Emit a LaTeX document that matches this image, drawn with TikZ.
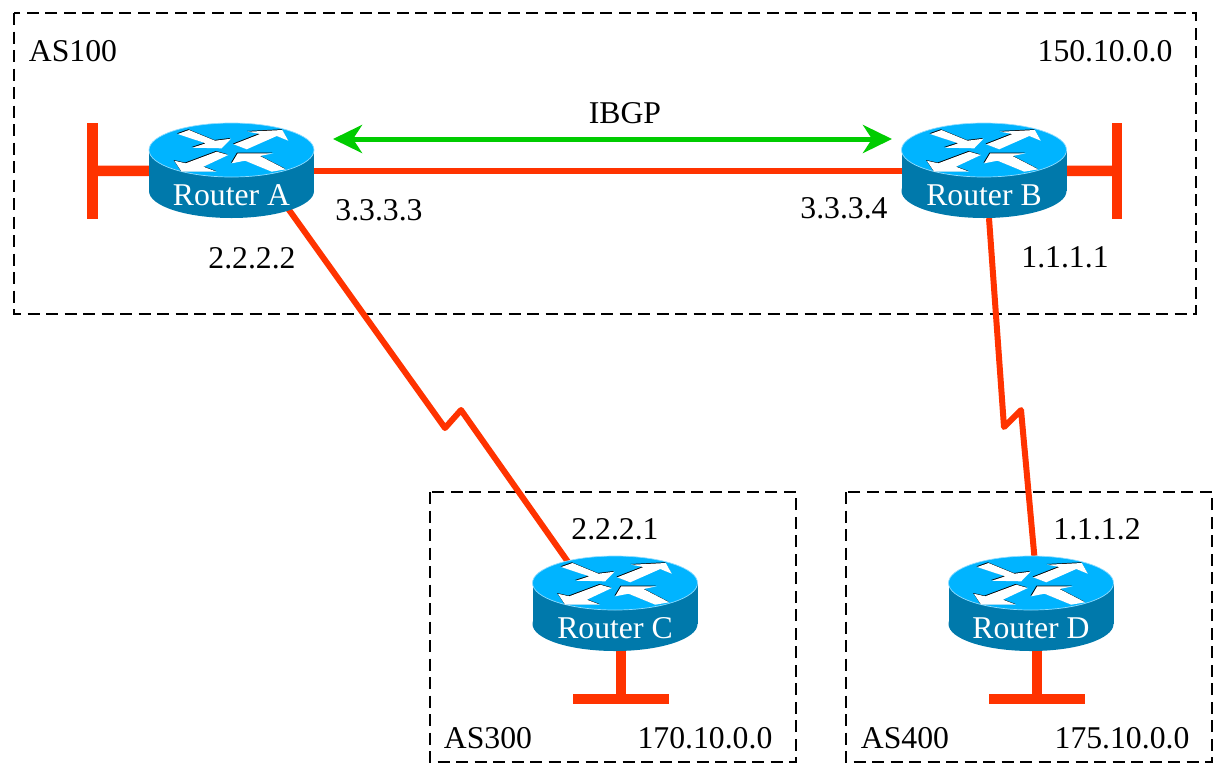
\documentclass[tikz,border=0pt]{standalone}
\usepackage{fontspec}
\setmainfont{Liberation Serif}
\usetikzlibrary{arrows.meta}
\usetikzlibrary{shapes.geometric}
\definecolor{routertop}{HTML}{00B4FF}
\definecolor{routerside}{HTML}{0079AB}
\definecolor{routeredge}{HTML}{8FDCFF}
\definecolor{linkred}{HTML}{FF3300}
\definecolor{ibgpgreen}{HTML}{00CC00}
\newcommand{\routerarrow}[1]{%
    \fill[black, shift={(-.7pt,.7pt)}] #1 -- cycle;
    \fill[white] #1 -- cycle;
}
\newcommand{\routerbody}[2]{%
    \begin{scope}[shift={(#1.center)}, yshift=20.5pt]
        \fill[routerside] (-82.5,0) rectangle (82.5,41);
        \fill[routerside] (0,41) ellipse [x radius=82.5pt, y radius=27pt];
        \fill[routertop, draw=routeredge, line width=.7pt] (0,0) ellipse [x radius=82.5pt, y radius=27pt];
        \routerarrow{(-53.8,-16) -- (-42.5,-20) -- (-16.5,-9.3) -- (-.5,-11.3) -- (-9.8,-1.7) -- (-39.2,-2.3) -- (-25.8,-6.7)}
        \routerarrow{(2.2,-5.7) -- (28.5,-16) -- (16.2,-18.3) -- (50.8,-20) -- (56.8,-9.3) -- (45.2,-14) -- (15.2,-.7)}
        \routerarrow{(-14.8,1.7) -- (-3.2,5) -- (-28.2,16.7) -- (-14.8,21.7) -- (-49.8,21.7) -- (-57.2,10.7) -- (-45.8,13.3)}
        \routerarrow{(.2,13.3) -- (6.2,3.3) -- (41.8,3.3) -- (28.5,6) -- (54.2,19.3) -- (40.2,21.7) -- (13.5,10.7)}
        \node[routerlabel] (#1-label) at (0,45.5) {#2};
    \end{scope}
}

\begin{document}
\begin{tikzpicture}[x=1pt, y=-1pt,
                    every node/.style={inner sep=0pt, font=\fontsize{31.7}{36}\selectfont},
                    router/.style={ellipse, minimum width=164pt, minimum height=95pt},
                    routerlabel/.style={text=white},
                    stubv/.style={fill=linkred, minimum width=10.5pt, minimum height=96pt},
                    stubh/.style={fill=linkred, minimum width=96pt, minimum height=10.5pt},
                    link/.style={draw=linkred, line width=6pt, line join=round},
                    stem/.style={draw=linkred, line width=10.5pt},
                    asbox/.style={draw, line width=2.4pt, dash pattern=on 12pt off 6.5pt},
                    ibgp/.style={draw=ibgpgreen, line width=5pt, {Stealth[length=29pt,width=28pt,inset=9pt]}-{Stealth[length=29pt,width=28pt,inset=9pt]}}]
    \useasboundingbox (0,0) rectangle (1215,764);

    % autonomous systems
    \draw[asbox] (14,13) rectangle (1196,314);
    \draw[asbox] (430,492) rectangle (796,762);
    \draw[asbox] (846,492) rectangle (1212,762);

    \node[router] (ra) at (231.5,170.5) {};
    \node[router] (rb) at (984,170.5) {};
    \node[router] (rc) at (615,603.5) {};
    \node[router] (rd) at (1031,603.5) {};

    \node[stubv] (ta) at (92.5,171) {};
    \node[stubv] (tb) at (1117,171) {};
    \node[stubh] (tc) at (621,699) {};
    \node[stubh] (td) at (1037,699) {};

    \coordinate (zac1) at (445,428);
    \coordinate (zac2) at (461,410);
    \coordinate (zbd1) at (1004,427);
    \coordinate (zbd2) at (1021,410);
    \coordinate (ibgpl) at (333,139);
    \coordinate (ibgpr) at (892,139);

    % links, under the routers
    \draw[stem] (ta.center) -- (ra);
    \draw[stem] (tb.center) -- (rb);
    \draw[stem] (tc.center) -- (tc |- rc);
    \draw[stem] (td.center) -- (td |- rd);
    \draw[link] (ra) -- (rb);
    \draw[link] (ra.-33.7) -- (zac1) -- (zac2) -- (rc.139.7);
    \draw[link] (rb.-84.5) -- (zbd1) -- (zbd2) -- (rd.86);
    \draw[ibgp] (ibgpl) -- (ibgpr);

    \routerbody{ra}{Router A}
    \routerbody{rb}{Router B}
    \routerbody{rc}{Router C}
    \routerbody{rd}{Router D}

    \node (as100) at (73,51.5) {AS100};
    \node (net100) at (1105,51.5) {150.10.0.0};
    \node (ibgplabel) at (625,113.5) {IBGP};
    \node (ipa3) at (379,210.5) {3.3.3.3};
    \node (ipb3) at (844,208.5) {3.3.3.4};
    \node (ipa2) at (252,258.5) {2.2.2.2};
    \node (ipb1) at (1065,257.5) {1.1.1.1};
    \node (ipc2) at (615,529.5) {2.2.2.1};
    \node (ipd1) at (1097,529.5) {1.1.1.2};
    \node (as300) at (488,738.5) {AS300};
    \node (net300) at (705,738.5) {170.10.0.0};
    \node (as400) at (905,738.5) {AS400};
    \node (net400) at (1122,738.5) {175.10.0.0};
\end{tikzpicture}
\end{document}
